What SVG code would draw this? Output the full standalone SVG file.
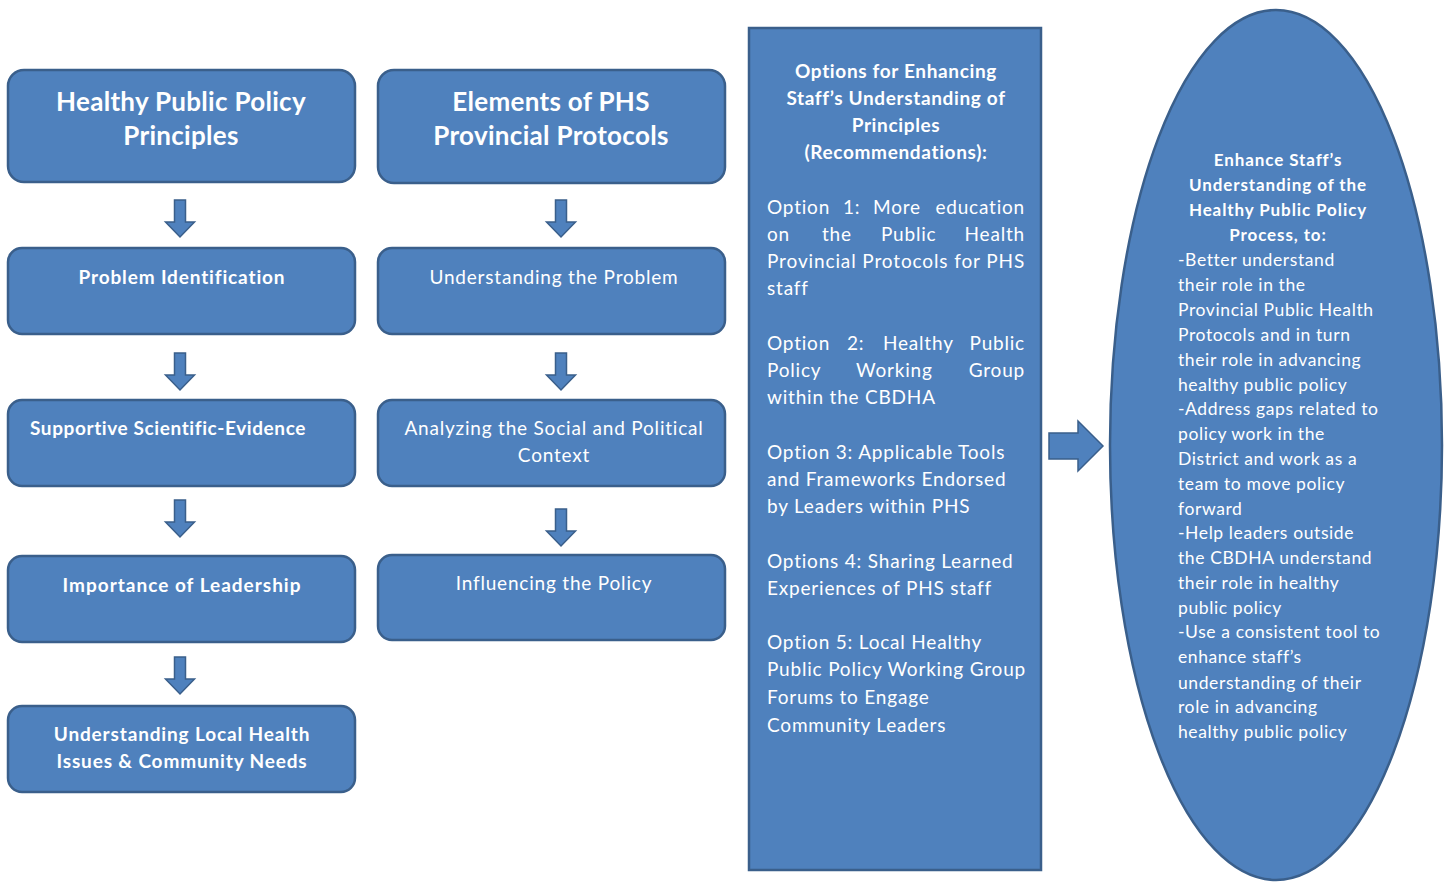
<svg xmlns="http://www.w3.org/2000/svg" width="1445" height="882" viewBox="0 0 1445 882">
<style>
.box{fill:#4f81bd;stroke:#3a5f8b;stroke-width:2.5}
.arr{fill:#4f81bd;stroke:#3a5f8b;stroke-width:1.5}
text{font-family:Lato,"Open Sans","Liberation Sans",sans-serif;fill:#ffffff}
.t1{font-size:26px;font-weight:bold;text-anchor:middle;letter-spacing:0.3px}
.tb{font-size:19px;font-weight:bold;text-anchor:middle;letter-spacing:0.85px}
.tn{font-size:19px;text-anchor:middle;letter-spacing:0.8px}
.mh{font-size:19px;font-weight:bold;text-anchor:middle;letter-spacing:0.65px}
.mo{font-size:19px;letter-spacing:0.8px}
.end{text-anchor:end}
.eh{font-size:17px;font-weight:bold;text-anchor:middle;letter-spacing:0.9px}
.eo{font-size:17.5px;letter-spacing:0.6px}
</style>
<defs>
<path id="down" d="M-5.5,0 H5.5 V22 H14.5 L0,37 L-14.5,22 H-5.5 Z"/>
</defs>
<g id="connectors">
<use href="#down" class="arr" x="180" y="200"/>
<use href="#down" class="arr" x="180" y="353"/>
<use href="#down" class="arr" x="180" y="500"/>
<use href="#down" class="arr" x="180" y="657"/>
<use href="#down" class="arr" x="561" y="200"/>
<use href="#down" class="arr" x="561" y="353"/>
<use href="#down" class="arr" x="561" y="509"/>
<path class="arr" d="M1049,433 H1078 V421 L1103,446 L1078,471 V459 H1049 Z"/>
</g>
<g id="n-hpp">
<rect class="box" x="8" y="70" width="347" height="112" rx="16"/>
<text class="t1" x="181" y="111">Healthy Public Policy</text>
<text class="t1" x="181" y="145">Principles</text>
</g>
<g id="n-problem-id">
<rect class="box" x="8" y="248" width="347" height="86" rx="14"/>
<text class="tb" x="182" y="284">Problem Identification</text>
</g>
<g id="n-evidence">
<rect class="box" x="8" y="400" width="347" height="86" rx="14"/>
<text class="tb" x="168" y="435" style="letter-spacing:0.6px">Supportive Scientific-Evidence</text>
</g>
<g id="n-leadership">
<rect class="box" x="8" y="556" width="347" height="86" rx="14"/>
<text class="tb" x="182" y="592" style="letter-spacing:1px">Importance of Leadership</text>
</g>
<g id="n-local">
<rect class="box" x="8" y="706" width="347" height="86" rx="14"/>
<text class="tb" x="182" y="741">Understanding Local Health</text>
<text class="tb" x="182" y="768">Issues &amp; Community Needs</text>
</g>
<g id="n-phs">
<rect class="box" x="378" y="70" width="347" height="113" rx="16"/>
<text class="t1" x="551" y="111">Elements of PHS</text>
<text class="t1" x="551" y="145">Provincial Protocols</text>
</g>
<g id="n-understand">
<rect class="box" x="378" y="248" width="347" height="86" rx="14"/>
<text class="tn" x="554" y="284">Understanding the Problem</text>
</g>
<g id="n-analyze">
<rect class="box" x="378" y="400" width="347" height="86" rx="14"/>
<text class="tn" x="554" y="435">Analyzing the Social and Political</text>
<text class="tn" x="554" y="462">Context</text>
</g>
<g id="n-influence">
<rect class="box" x="378" y="555" width="347" height="85" rx="14"/>
<text class="tn" x="554" y="590">Influencing the Policy</text>
</g>
<g id="n-options">
<rect class="box" x="749" y="28" width="292" height="842"/>
<text class="mh" x="896" y="78">Options for Enhancing</text>
<text class="mh" x="896" y="105">Staff’s Understanding of</text>
<text class="mh" x="896" y="132">Principles</text>
<text class="mh" x="896" y="159">(Recommendations):</text>
<text class="mo" y="214"><tspan x="767">Option</tspan><tspan x="843">1:</tspan><tspan x="873">More</tspan></text>
<text class="mo end" x="1025" y="214">education</text>
<text class="mo" y="241"><tspan x="767">on</tspan><tspan x="822">the</tspan><tspan x="881">Public</tspan></text>
<text class="mo end" x="1025" y="241">Health</text>
<text class="mo" x="767" y="268" textLength="258" lengthAdjust="spacing">Provincial Protocols for PHS</text>
<text class="mo" x="767" y="295">staff</text>
<text class="mo" y="350"><tspan x="767">Option</tspan><tspan x="847">2:</tspan><tspan x="883">Healthy</tspan></text>
<text class="mo end" x="1025" y="350">Public</text>
<text class="mo" y="377"><tspan x="767">Policy</tspan><tspan x="856">Working</tspan></text>
<text class="mo end" x="1025" y="377">Group</text>
<text class="mo" x="767" y="404">within the CBDHA</text>
<text class="mo" x="767" y="459">Option 3: Applicable Tools</text>
<text class="mo" x="767" y="486">and Frameworks Endorsed</text>
<text class="mo" x="767" y="513">by Leaders within PHS</text>
<text class="mo" x="767" y="568">Options 4: Sharing Learned</text>
<text class="mo" x="767" y="595">Experiences of PHS staff</text>
<text class="mo" x="767" y="649">Option 5: Local Healthy</text>
<text class="mo" x="767" y="676">Public Policy Working Group</text>
<text class="mo" x="767" y="704">Forums to Engage</text>
<text class="mo" x="767" y="732">Community Leaders</text>
</g>
<g id="n-enhance">
<ellipse class="box" cx="1276" cy="445" rx="166" ry="435"/>
<text class="eh" x="1278" y="166">Enhance Staff’s</text>
<text class="eh" x="1278" y="191">Understanding of the</text>
<text class="eh" x="1278" y="216">Healthy Public Policy</text>
<text class="eh" x="1278" y="241">Process, to:</text>
<text class="eo" x="1178" y="266">-Better understand</text>
<text class="eo" x="1178" y="291">their role in the</text>
<text class="eo" x="1178" y="316">Provincial Public Health</text>
<text class="eo" x="1178" y="341">Protocols and in turn</text>
<text class="eo" x="1178" y="366">their role in advancing</text>
<text class="eo" x="1178" y="391">healthy public policy</text>
<text class="eo" x="1178" y="415">-Address gaps related to</text>
<text class="eo" x="1178" y="440">policy work in the</text>
<text class="eo" x="1178" y="465">District and work as a</text>
<text class="eo" x="1178" y="490">team to move policy</text>
<text class="eo" x="1178" y="515">forward</text>
<text class="eo" x="1178" y="539">-Help leaders outside</text>
<text class="eo" x="1178" y="564">the CBDHA understand</text>
<text class="eo" x="1178" y="589">their role in healthy</text>
<text class="eo" x="1178" y="614">public policy</text>
<text class="eo" x="1178" y="638">-Use a consistent tool to</text>
<text class="eo" x="1178" y="663">enhance staff’s</text>
<text class="eo" x="1178" y="689">understanding of their</text>
<text class="eo" x="1178" y="713">role in advancing</text>
<text class="eo" x="1178" y="738">healthy public policy</text>
</g>
</svg>
